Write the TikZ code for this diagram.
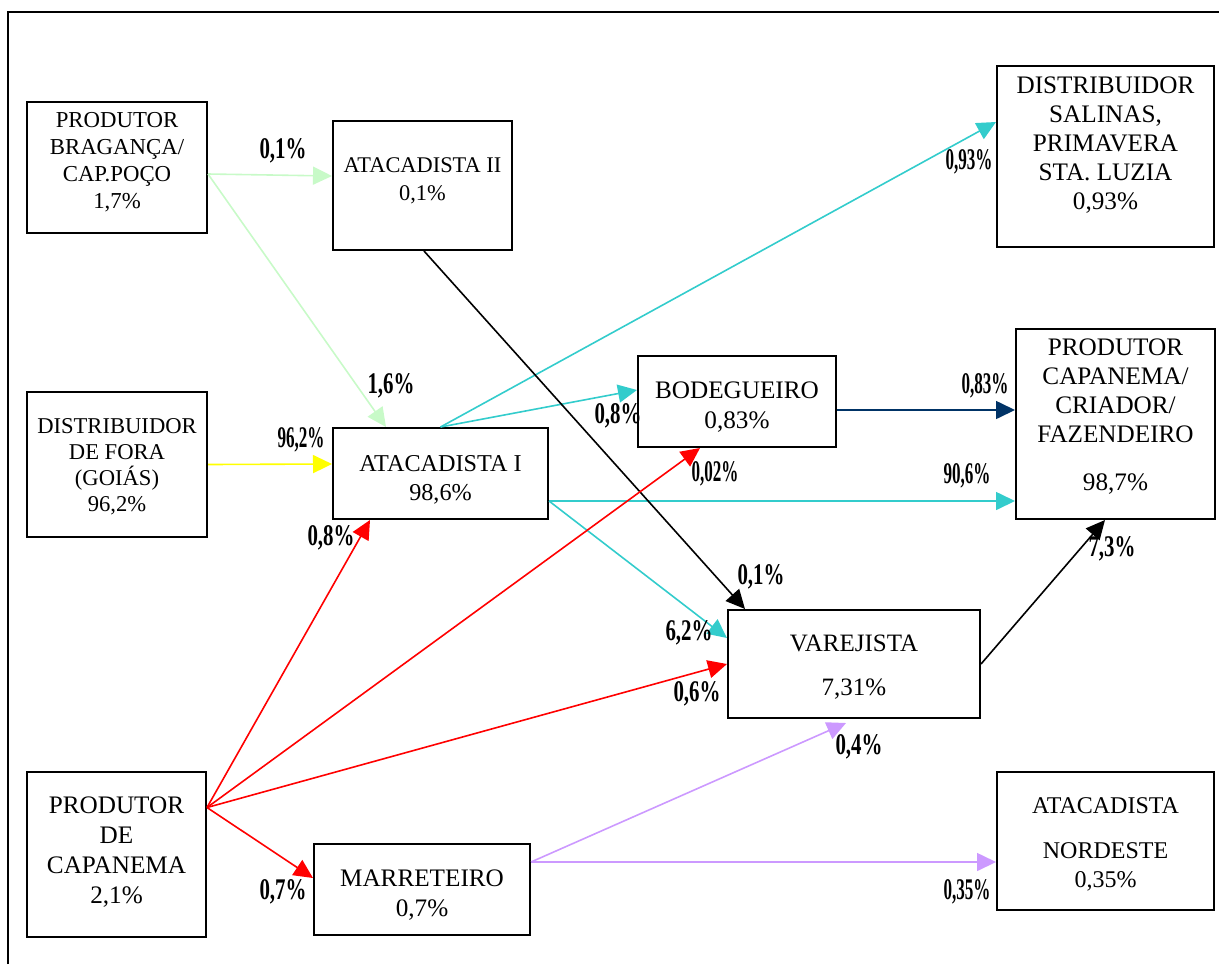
\documentclass[tikz,border=0pt]{standalone}
\usepackage{fontspec}
\usepackage{graphicx}
\setmainfont{Liberation Serif}
\usetikzlibrary{arrows.meta,calc}
\definecolor{cgreen}{RGB}{200,250,200}
\definecolor{cyell}{RGB}{255,255,0}
\definecolor{ccyan}{RGB}{51,204,204}
\definecolor{cred}{RGB}{255,0,0}
\definecolor{cnavy}{RGB}{0,51,102}
\definecolor{cpurp}{RGB}{204,153,255}
\newcommand\pctlab[1]{\resizebox{23.5pt}{\height}{#1}}
\tikzset{
  box/.style={draw, line width=1pt, inner sep=0pt},
  txt/.style={align=center, inner sep=0pt},
  lbl/.style={inner sep=0pt, font=\bfseries\fontsize{15}{16}\selectfont},
  conn/.style={line width=0.8pt, -{Triangle[length=9.5pt,width=9pt]}},
  frame/.style={line width=0.7pt}
}
\begin{document}
\begin{tikzpicture}[x=0.5pt,y=-0.5pt]
\useasboundingbox (0,0) rectangle (1219,964);
\coordinate (f1) at (8,964);
\coordinate (f2) at (8,12);
\coordinate (f3) at (1219,12);
\draw[frame] (f1) -- (f2) -- (f3);

% boxes
\node[box, minimum width=90pt, minimum height=65.5pt] (A) at (117,167.5) {};
\node[box, minimum width=89.5pt, minimum height=64.5pt] (B) at (422.5,185.5) {};
\node[box, minimum width=108.5pt, minimum height=90.5pt] (C) at (1105.5,156.5) {};
\node[box, minimum width=90pt, minimum height=72.5pt] (D) at (117,464.5) {};
\node[box, minimum width=107.5pt, minimum height=45.5pt] (E) at (440.5,473.5) {};
\node[box, minimum width=99pt, minimum height=45.5pt] (F) at (737,401.5) {};
\node[box, minimum width=99.5pt, minimum height=95pt] (G) at (1115.5,424) {};
\node[box, minimum width=126pt, minimum height=54pt] (H) at (854,664) {};
\node[box, minimum width=89.5pt, minimum height=82.5pt] (I) at (116.5,854.5) {};
\node[box, minimum width=108pt, minimum height=45.5pt] (J) at (422,889.5) {};
\node[box, minimum width=108.5pt, minimum height=69pt] (K) at (1105.5,841) {};

% box texts
\node[txt, font=\fontsize{11.4}{13.5}\selectfont] (At) at (117,162) {PRODUTOR\\BRAGANÇA/\\CAP.POÇO\\1,7\%};
\node[txt, font=\fontsize{11.2}{14}\selectfont] (Bt) at (422.5,181) {ATACADISTA II\\0,1\%};
\node[txt, font=\fontsize{12.6}{14.5}\selectfont] (Ct) at (1105.5,145.5) {DISTRIBUIDOR\\SALINAS,\\PRIMAVERA\\STA. LUZIA\\0,93\%};
\node[txt, font=\fontsize{11.3}{13}\selectfont] (Dt) at (117,466.5) {DISTRIBUIDOR\\DE FORA\\(GOIÁS)\\96,2\%};
\node[txt, font=\fontsize{12.1}{14.5}\selectfont] (Et) at (440.5,479.5) {ATACADISTA I\\98,6\%};
\node[txt, font=\fontsize{12.6}{15}\selectfont] (Ft) at (737,407) {BODEGUEIRO\\0,83\%};
\node[txt, font=\fontsize{12.6}{14.5}\selectfont] (Gt) at (1115.5,416.5) {PRODUTOR\\CAPANEMA/\\CRIADOR/\\FAZENDEIRO\\[9.5pt]98,7\%};
\node[txt, font=\fontsize{12.5}{15}\selectfont] (Ht) at (854,667) {VAREJISTA\\[7pt]7,31\%};
\node[txt, font=\fontsize{12.6}{15}\selectfont] (It) at (116.5,852) {PRODUTOR\\DE\\CAPANEMA\\2,1\%};
\node[txt, font=\fontsize{12.6}{15}\selectfont] (Jt) at (422,895) {MARRETEIRO\\0,7\%};
\node[txt, font=\fontsize{12}{14.5}\selectfont] (Kt) at (1105.5,844) {ATACADISTA\\[8pt]NORDESTE\\0,35\%};

% connectors
\draw[conn, cgreen] ($(A.east)+(0,6.5)$) -- ($(B.west)+(0,-9.5)$);
\draw[conn, cgreen] ($(A.east)+(0,6.5)$) -- ($(E.north)+(-54.5,0)$);
\draw[conn, cyell] (D.east) -- ($(E.west)+(0,-9.5)$);
\draw[conn, ccyan] (E.north) -- ($(C.west)+(0,-34.5)$);
\draw[conn, ccyan] (E.north) -- ($(F.west)+(0,-11.5)$);
\draw[conn, ccyan] ($(E.east)+(0,27.5)$) -- ($(G.west)+(0,77)$);
\draw[conn, ccyan] ($(E.east)+(0,27.5)$) -- ($(H.west)+(0,-26)$);
\draw[conn, black] ($(B.south)+(1.5,0)$) -- ($(H.north)+(-109,0)$);
\draw[conn, cnavy] ($(F.east)+(0,8.5)$) -- ($(G.west)+(0,-14)$);
\draw[conn, black] (H.east) -- ($(G.south)+(-10.5,0)$);
\draw[conn, cred] ($(I.east)+(0,-47)$) -- ($(E.south)+(-70.5,0)$);
\draw[conn, cred] ($(I.east)+(0,-47)$) -- ($(F.south)+(-37,0)$);
\draw[conn, cred] ($(I.east)+(0,-47)$) -- (H.west);
\draw[conn, cred] ($(I.east)+(0,-47)$) -- ($(J.west)+(0,-11.5)$);
\draw[conn, cpurp] ($(J.east)+(0,-27.5)$) -- ($(H.south)+(-8,4)$);
\draw[conn, cpurp] ($(J.east)+(0,-27.5)$) -- ($(K.west)+(0,21)$);

% percentage labels
\node[lbl] (l1) at (283,151) {\pctlab{0,1\%}};
\node[lbl] (l2) at (391,386) {\pctlab{1,6\%}};
\node[lbl] (l3) at (301,440) {\pctlab{96,2\%}};
\node[lbl] (l4) at (331,538) {\pctlab{0,8\%}};
\node[lbl] (l5) at (618,416) {\pctlab{0,8\%}};
\node[lbl] (l6) at (985,386) {\pctlab{0,83\%}};
\node[lbl] (l7) at (715,474) {\pctlab{0,02\%}};
\node[lbl] (l8) at (967,476) {\pctlab{90,6\%}};
\node[lbl] (l9) at (1112,549) {\pctlab{7,3\%}};
\node[lbl] (l10) at (761,577) {\pctlab{0,1\%}};
\node[lbl] (l11) at (689,633) {\pctlab{6,2\%}};
\node[lbl] (l12) at (697,694) {\pctlab{0,6\%}};
\node[lbl] (l13) at (859,747) {\pctlab{0,4\%}};
\node[lbl] (l14) at (967,892) {\pctlab{0,35\%}};
\node[lbl] (l15) at (283,892) {\pctlab{0,7\%}};
\node[lbl] (l16) at (969,162) {\pctlab{0,93\%}};
\end{tikzpicture}
\end{document}
